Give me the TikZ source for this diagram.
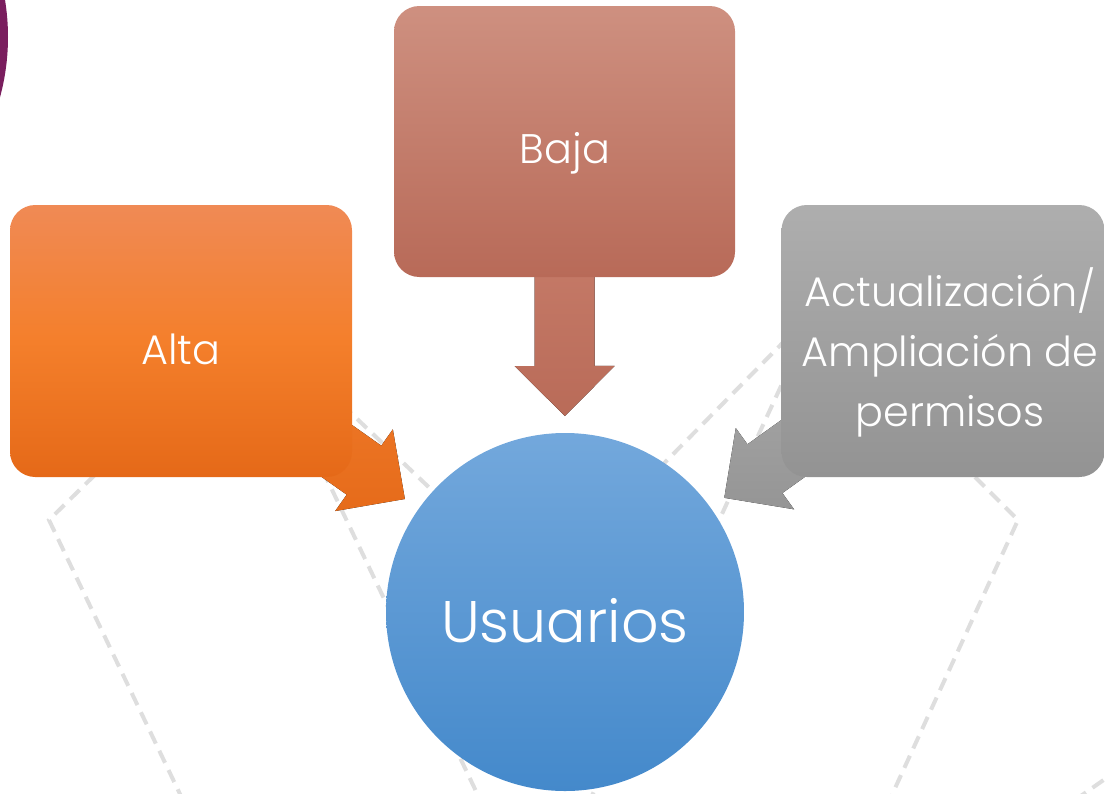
\documentclass[tikz,border=0pt]{standalone}
\usepackage{fontspec}
\setmainfont{Poppins}[UprightFont=* Light]
\usetikzlibrary{calc}
\definecolor{dashgray}{HTML}{DEDEDE}
\definecolor{purplearc}{HTML}{7A1E5E}
\definecolor{orgtop}{HTML}{F08A55}
\definecolor{orgmid}{HTML}{F47F2B}
\definecolor{orgbot}{HTML}{E56918}
\definecolor{orgatop}{HTML}{F07B2B}
\definecolor{orgabot}{HTML}{E66B1A}
\definecolor{bajtop}{HTML}{CE9080}
\definecolor{bajbot}{HTML}{B86A58}
\definecolor{bajatop}{HTML}{C87E6C}
\definecolor{bajabot}{HTML}{B96B58}
\definecolor{grytop}{HTML}{AEAEAE}
\definecolor{grybot}{HTML}{939393}
\definecolor{gryatop}{HTML}{A8A8A8}
\definecolor{gryabot}{HTML}{959595}
\definecolor{blutop}{HTML}{73A8DC}
\definecolor{blubot}{HTML}{4489CB}
\tikzset{
  bgdash/.style={draw=dashgray, line width=3pt, dash pattern=on 10pt off 6pt},
  card/.style={rounded corners=19pt, inner sep=0pt},
  lbl/.style={text=white, font=\fontsize{31}{45}\selectfont, align=center, inner sep=0pt},
}
\newcommand{\flowarrow}[4]{%
  \coordinate (ft) at ($(#2.center)!147pt!(#1.center)$);
  \coordinate (fh) at ($(#2.center)!184.5pt!(#1.center)$);
  \coordinate (fs) at ($(#2.center)!300pt!(#1.center)$);
  \fill[top color=#3, bottom color=#4]
    (ft) -- ($(fh)!37.5pt!90:(ft)$) -- ($(fh)!22.5pt!90:(ft)$)
    -- ($(fs)!22.5pt!90:(ft)$) -- ($(fs)!22.5pt!-90:(ft)$)
    -- ($(fh)!22.5pt!-90:(ft)$) -- ($(fh)!37.5pt!-90:(ft)$) -- cycle;
}
\begin{document}
\begin{tikzpicture}[x=0.75pt, y=-0.75pt]
\useasboundingbox (0,0) rectangle (1105,793);
\clip (0,0) rectangle (1105,793);
% purple arc
\fill[purplearc] (-222,37) circle[radius=172.5pt];
% background dashed lines
\coordinate (lv) at (49,520);
\coordinate (cv) at (249,316);
\coordinate (ev) at (817,308);
\coordinate (rv) at (1018,520);
\draw[bgdash] (110,460) -- (lv) -- (190,815);
\draw[bgdash] (cv) -- (500,555);
\draw[bgdash] (cv) -- (485,810);
\draw[bgdash] (ev) -- (620,508);
\draw[bgdash] (ev) -- (590,800);
\draw[bgdash] (960,462) -- (rv) -- (885,810);
\draw[bgdash] (1075,800) -- (1115,772);
% central circle
\node[circle, minimum size=268.5pt, inner sep=0pt, top color=blutop, bottom color=blubot] (usr) at (565,612) {};
% box centres (for arrows)
\coordinate (altac) at (181,341);
\coordinate (bajac) at (564.5,141.5);
\coordinate (actc) at (943,341);
% arrows
\flowarrow{altac}{usr}{orgatop}{orgabot}
\flowarrow{bajac}{usr}{bajatop}{bajabot}
\flowarrow{actc}{usr}{gryatop}{gryabot}
% boxes
\node[card, minimum width=256.5pt, minimum height=204pt, top color=orgtop, bottom color=orgbot, middle color=orgmid] (alta) at (altac) {};
\node[card, minimum width=255.75pt, minimum height=203.25pt, top color=bajtop, bottom color=bajbot] (baja) at (bajac) {};
\node[card, minimum width=242.25pt, minimum height=204pt, top color=grytop, bottom color=grybot] (act) at (actc) {};
% labels
\node[lbl, anchor=base] (altat) at (181,364) {Alta};
\node[lbl, anchor=base] (bajat) at (565,163) {Baja};
\node[lbl] (actt) at (950,352) {Actualización/\\Ampliación de\\permisos};
\node[lbl, anchor=base, font=\fontsize{44}{50}\selectfont] (usrt) at (565,642) {Usuarios};
\end{tikzpicture}
\end{document}
